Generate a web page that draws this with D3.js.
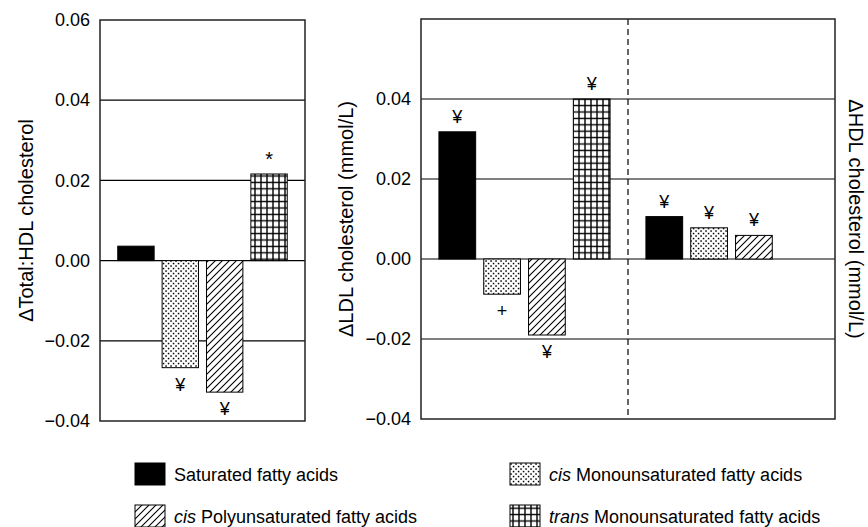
<!DOCTYPE html>
<html>
<head>
<meta charset="utf-8">
<script src="https://cdn.jsdelivr.net/npm/d3@7"></script>
<style>
  html, body { margin: 0; padding: 0; background: #fff; }
  svg { display: block; font-family: "Liberation Sans", Arial, Helvetica, sans-serif; }
</style>
</head>
<body>
<svg id="chart" width="868" height="527"></svg>
<script>
// Fatty acid groups (shared by all three panels)
const groups = ["sat", "cisMono", "cisPoly", "transMono"];
const groupLabels = [
  ["", "Saturated fatty acids"],
  ["cis", " Monounsaturated fatty acids"],
  ["cis", " Polyunsaturated fatty acids"],
  ["trans", " Monounsaturated fatty acids"]
];

// Change in Total:HDL cholesterol ratio
const totalHdlValues = [0.0036, -0.0267, -0.0328, 0.0216];
const totalHdlMarks = ["", "¥", "¥", "*"];

// Change in LDL cholesterol (mmol/L)
const ldlValues = [0.0318, -0.0088, -0.0190, 0.0400];
const ldlMarks = ["¥", "+", "¥", "¥"];

// Change in HDL cholesterol (mmol/L)
const hdlValues = [0.0106, 0.0078, 0.0059];
const hdlMarks = ["¥", "¥", "¥"];

// Tick values
const leftTicks = [-0.04, -0.02, 0.00, 0.02, 0.04, 0.06];
const rightTicks = [-0.04, -0.02, 0.00, 0.02, 0.04];
const gridTicks = [-0.02, 0.00, 0.02, 0.04];

const svg = d3.select("#chart");
const defs = svg.append("defs");

// Fill patterns
const dots = defs.append("pattern").attr("id", "p-dots")
  .attr("patternUnits", "userSpaceOnUse").attr("width", 5).attr("height", 5);
dots.append("rect").attr("width", 5).attr("height", 5).attr("fill", "#fff");
dots.append("rect").attr("x", 0.3).attr("y", 0.3).attr("width", 1.5).attr("height", 1.5).attr("fill", "#000");
dots.append("rect").attr("x", 2.8).attr("y", 2.8).attr("width", 1.5).attr("height", 1.5).attr("fill", "#000");

const hatch = defs.append("pattern").attr("id", "p-hatch")
  .attr("patternUnits", "userSpaceOnUse").attr("width", 7).attr("height", 7);
hatch.append("rect").attr("width", 7).attr("height", 7).attr("fill", "#fff");
hatch.append("path").attr("d", "M-1,8 L8,-1 M-2,2 L2,-2 M5,9 L9,5")
  .attr("stroke", "#000").attr("stroke-width", 1.1);

const grid = defs.append("pattern").attr("id", "p-grid")
  .attr("patternUnits", "userSpaceOnUse").attr("width", 6).attr("height", 6.4);
grid.append("rect").attr("width", 6).attr("height", 6.4).attr("fill", "#fff");
grid.append("path").attr("d", "M3,0 V6.4 M0,3.2 H6")
  .attr("stroke", "#000").attr("stroke-width", 1.4);

const fills = {
  sat: "#000",
  cisMono: "url(#p-dots)",
  cisPoly: "url(#p-hatch)",
  transMono: "url(#p-grid)"
};

const fmt = d3.format(".2f");

function drawBars(g, x, y, values, marks) {
  const data = values.map((v, i) => ({ key: groups[i], i, v, mark: marks[i] }));
  g.selectAll("rect.bar").data(data).join("rect")
    .attr("class", "bar")
    .attr("x", d => x(d.i))
    .attr("width", x.bandwidth())
    .attr("y", d => y(Math.max(0, d.v)))
    .attr("height", d => Math.abs(y(d.v) - y(0)))
    .attr("fill", d => fills[d.key])
    .attr("stroke", "#000")
    .attr("stroke-width", 1);
  g.selectAll("text.mark").data(data.filter(d => d.mark)).join("text")
    .attr("class", "mark")
    .attr("x", d => x(d.i) + x.bandwidth() / 2)
    .attr("y", d => d.v >= 0 ? y(d.v) - 15 : y(d.v) + 17)
    .attr("text-anchor", "middle")
    .attr("dominant-baseline", "central")
    .attr("font-size", d => d.mark === "*" ? 20 : 18)
    .text(d => d.mark);
}

function drawGrid(g, x0, x1, y) {
  g.selectAll("line.grid").data(gridTicks).join("line")
    .attr("class", "grid")
    .attr("x1", x0).attr("x2", x1)
    .attr("y1", d => y(d)).attr("y2", d => y(d))
    .attr("stroke", "#000").attr("stroke-width", 1.2);
}

function drawYAxis(g, x0, y, ticks) {
  const axis = d3.axisLeft(y).tickValues(ticks).tickSize(0).tickPadding(10)
    .tickFormat(d => fmt(d).replace("-", "\u2013"));
  const ag = g.append("g").attr("transform", `translate(${x0},0)`).call(axis);
  ag.select(".domain").remove();
  ag.selectAll("text").attr("font-size", 18).attr("fill", "#000")
    .attr("font-family", "'Liberation Sans', Arial, sans-serif");
}

function frame(g, x0, x1, y0, y1) {
  g.append("rect").attr("x", x0).attr("y", y0)
    .attr("width", x1 - x0).attr("height", y1 - y0)
    .attr("fill", "none").attr("stroke", "#222").attr("stroke-width", 1.5);
}

// ---- Left panel: Total:HDL ratio ----
const L = { x0: 100, x1: 305, y0: 20, y1: 421 };
const yL = d3.scaleLinear().domain([-0.04, 0.06]).range([L.y1, L.y0]);
const xL = d3.scaleBand().domain([0, 1, 2, 3]).range([L.x0, L.x1])
  .paddingInner(0.18).paddingOuter(0.4);
const gL = svg.append("g");
drawGrid(gL, L.x0, L.x1, yL);
drawBars(gL, xL, yL, totalHdlValues, totalHdlMarks);
frame(gL, L.x0, L.x1, L.y0, L.y1);
drawYAxis(gL, L.x0, yL, leftTicks);
gL.append("text")
  .attr("transform", `translate(33,${(L.y0 + L.y1) / 2}) rotate(-90)`)
  .attr("text-anchor", "middle").attr("font-size", 20)
  .text("\u0394Total:HDL cholesterol");

// ---- Right panel: LDL (left half) and HDL (right half) ----
const R = { x0: 421, x1: 835, y0: 19, y1: 419 };
const mid = (R.x0 + R.x1) / 2;
const yR = d3.scaleLinear().domain([-0.04, 0.06]).range([R.y1, R.y0]);
const xLdl = d3.scaleBand().domain([0, 1, 2, 3]).range([R.x0, mid])
  .paddingInner(0.18).paddingOuter(0.4);
const xHdl = d3.scaleBand().domain([0, 1, 2, 3]).range([mid, R.x1])
  .paddingInner(0.18).paddingOuter(0.4);
const gR = svg.append("g");
drawGrid(gR, R.x0, R.x1, yR);
drawBars(gR, xLdl, yR, ldlValues, ldlMarks);
drawBars(gR.append("g"), xHdl, yR, hdlValues, hdlMarks);
gR.append("line")
  .attr("x1", mid).attr("x2", mid).attr("y1", R.y0).attr("y2", R.y1)
  .attr("stroke", "#000").attr("stroke-width", 1.2).attr("stroke-dasharray", "6,4");
frame(gR, R.x0, R.x1, R.y0, R.y1);
drawYAxis(gR, R.x0, yR, rightTicks);
gR.append("text")
  .attr("transform", `translate(353,${(R.y0 + R.y1) / 2}) rotate(-90)`)
  .attr("text-anchor", "middle").attr("font-size", 20)
  .text("\u0394LDL cholesterol (mmol/L)");
gR.append("text")
  .attr("transform", `translate(849,${(R.y0 + R.y1) / 2}) rotate(90)`)
  .attr("text-anchor", "middle").attr("font-size", 20)
  .text("\u0394HDL cholesterol (mmol/L)");

// ---- Legend ----
const legendPos = [
  { x: 135, y: 463 }, { x: 510, y: 463 },
  { x: 135, y: 505 }, { x: 510, y: 505 }
];
const lg = svg.append("g").selectAll("g").data(groups).join("g")
  .attr("transform", (d, i) => `translate(${legendPos[i].x},${legendPos[i].y})`);
lg.append("rect")
  .attr("width", 30).attr("height", 22)
  .attr("fill", d => fills[d]).attr("stroke", "#000").attr("stroke-width", 1);
const lt = lg.append("text").attr("x", 39).attr("y", 17.5).attr("font-size", 18);
lt.append("tspan").attr("font-style", "italic").text((d, i) => groupLabels[i][0]);
lt.append("tspan").text((d, i) => groupLabels[i][1]);
</script>
</body>
</html>
